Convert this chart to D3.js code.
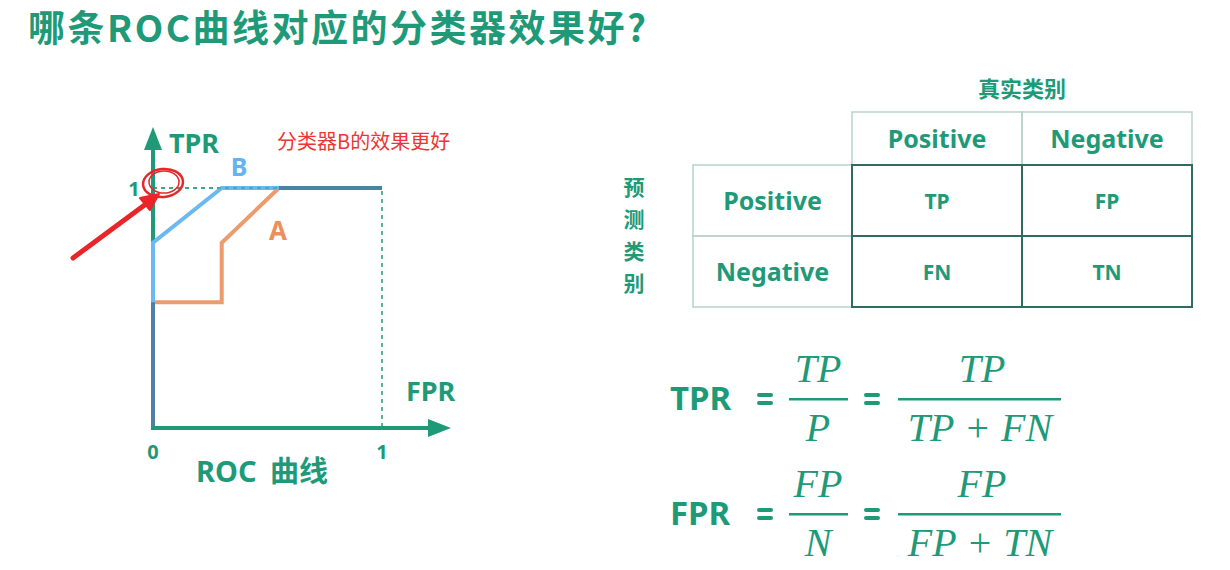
<!DOCTYPE html>
<html>
<head>
<meta charset="utf-8">
<script src="https://cdn.jsdelivr.net/npm/d3@7"></script>
<style>
  body { margin: 0; background: #fff; }
  text { font-family: "Noto Sans", "Noto Sans CJK SC", sans-serif; font-weight: bold; }
  .cjk { font-family: "Noto Sans CJK SC", sans-serif; }
  .math { font-family: "Liberation Serif", serif; font-style: italic; font-weight: normal; }
</style>
</head>
<body>
<div id="chart"></div>
<script>
// ROC curves (FPR, TPR)
var fprA = [0, 0, 0.30, 0.30, 0.55, 1];
var tprA = [0, 0.52, 0.52, 0.77, 1, 1];
var fprB = [0, 0, 0.30, 1];
var tprB = [0, 0.77, 1, 1];
// parts where both curves lie on top of each other
var sharedFpr = [[0, 0], [0.55, 1]];
var sharedTpr = [[0, 0.52], [1, 1]];

// confusion matrix
var actualLabels = ["Positive", "Negative"];
var predictedLabels = ["Positive", "Negative"];
var cells = [["TP", "FP"], ["FN", "TN"]];

var green = "#1f9a78";
var w = 1230, h = 570;

var svg = d3.select("#chart")
    .append("svg")
    .attr("width", w)
    .attr("height", h);

svg.append("text")
    .attr("class", "cjk")
    .attr("x", 28)
    .attr("y", 42)
    .style("font-size", "37px")
    .style("letter-spacing", "2.5px")
    .attr("fill", green)
    .text("哪条ROC曲线对应的分类器效果好?");

// ---------- ROC plot ----------
var x = d3.scaleLinear().domain([0, 1]).range([153, 382]);
var y = d3.scaleLinear().domain([0, 1]).range([426, 188]);

var roc = svg.append("g");

// axes with arrows
roc.append("line")
    .attr("x1", x(0)).attr("y1", y(0) + 2)
    .attr("x2", x(0)).attr("y2", 140)
    .attr("stroke", green).attr("stroke-width", 4);
roc.append("path")
    .attr("d", "M" + (x(0) - 9) + ",150L" + x(0) + ",127L" + (x(0) + 9) + ",150Z")
    .attr("fill", green);
roc.append("line")
    .attr("x1", x(0) - 2).attr("y1", y(0) + 2)
    .attr("x2", 438).attr("y2", y(0) + 2)
    .attr("stroke", green).attr("stroke-width", 4);
roc.append("path")
    .attr("d", "M428," + (y(0) - 7) + "L451," + (y(0) + 2) + "L428," + (y(0) + 11) + "Z")
    .attr("fill", green);

// dashed guides
roc.append("path")
    .attr("d", d3.line()([[x(0), y(1)], [x(1), y(1)], [x(1), y(0)]]))
    .attr("fill", "none")
    .attr("stroke", green)
    .attr("stroke-width", 1.5)
    .attr("stroke-dasharray", "4,4");

var line = d3.line()
    .x(function (d) { return x(d[0]); })
    .y(function (d) { return y(d[1]); });

roc.append("path")
    .attr("d", line(d3.zip(fprA, tprA)))
    .attr("fill", "none")
    .attr("stroke", "#ec9b6c")
    .attr("stroke-width", 4);
roc.append("path")
    .attr("d", line(d3.zip(fprB, tprB)))
    .attr("fill", "none")
    .attr("stroke", "#6bb8f2")
    .attr("stroke-width", 4);
sharedFpr.forEach(function (f, i) {
    roc.append("path")
        .attr("d", line(d3.zip(f, sharedTpr[i])))
        .attr("fill", "none")
        .attr("stroke", "#4f80a8")
        .attr("stroke-width", 4);
});
// dashes stay visible over the top line
roc.append("path")
    .attr("d", d3.line()([[x(0), y(1)], [x(1), y(1)]]))
    .attr("stroke", green)
    .attr("stroke-width", 1.5)
    .attr("stroke-dasharray", "4,4")
    .attr("opacity", 0.6);

// labels
roc.append("text").attr("x", 169).attr("y", 153)
    .style("font-size", "27px").attr("fill", green).text("TPR");
roc.append("text").attr("x", 406).attr("y", 401)
    .style("font-size", "27px").attr("fill", green).text("FPR");
roc.append("text").attr("x", 134).attr("y", y(1) + 8).attr("text-anchor", "middle")
    .style("font-size", "20px").attr("fill", green).text("1");
roc.append("text").attr("x", x(0)).attr("y", 459).attr("text-anchor", "middle")
    .style("font-size", "20px").attr("fill", green).text("0");
roc.append("text").attr("x", x(1)).attr("y", 459).attr("text-anchor", "middle")
    .style("font-size", "20px").attr("fill", green).text("1");
roc.append("text").attr("x", 262).attr("y", 482).attr("text-anchor", "middle")
    .style("font-size", "29px").style("word-spacing", "6px").attr("fill", green).text("ROC 曲线");
roc.append("text").attr("x", 239).attr("y", 176).attr("text-anchor", "middle")
    .style("font-size", "25px").attr("fill", "#62b4f2").text("B");
roc.append("text").attr("x", 278).attr("y", 240).attr("text-anchor", "middle")
    .style("font-size", "26px").attr("fill", "#ec8f5a").text("A");
roc.append("text").attr("class", "cjk").attr("x", 277).attr("y", 149)
    .style("font-size", "20px").style("font-weight", "normal")
    .attr("fill", "#ee3535").text("分类器B的效果更好");

// red marker
roc.append("ellipse")
    .attr("cx", 163).attr("cy", 183).attr("rx", 20).attr("ry", 14)
    .attr("fill", "none").attr("stroke", "#e8262a").attr("stroke-width", 2.5)
    .attr("transform", "rotate(-6,163,183)");
roc.append("ellipse")
    .attr("cx", 164).attr("cy", 182).attr("rx", 15).attr("ry", 11)
    .attr("fill", "none").attr("stroke", "#e8262a").attr("stroke-width", 1.5);
roc.append("line")
    .attr("x1", 73).attr("y1", 258).attr("x2", 150).attr("y2", 201)
    .attr("stroke", "#e8262a").attr("stroke-width", 5).attr("stroke-linecap", "round");
roc.append("path")
    .attr("d", "M159,194L140,198L150,210Z")
    .attr("fill", "#e8262a").attr("stroke", "#e8262a").attr("stroke-width", 2)
    .attr("stroke-linejoin", "round");

// ---------- confusion matrix ----------
var colX = d3.scaleBand().domain(actualLabels).range([852, 1192]);
var rowY = d3.scaleBand().domain(predictedLabels).range([165, 307]);
var headTop = 112, rowHeadX = 693;

var tbl = svg.append("g");

// header cells
actualLabels.forEach(function (lab) {
    tbl.append("rect")
        .attr("x", colX(lab)).attr("y", headTop)
        .attr("width", colX.bandwidth()).attr("height", rowY.range()[0] - headTop)
        .attr("fill", "none").attr("stroke", "#b9d2ca").attr("stroke-width", 1.5);
    tbl.append("text")
        .attr("x", colX(lab) + colX.bandwidth() / 2).attr("y", headTop + 36)
        .attr("text-anchor", "middle")
        .style("font-size", "25px").attr("fill", green).text(lab);
});
predictedLabels.forEach(function (lab) {
    tbl.append("rect")
        .attr("x", rowHeadX).attr("y", rowY(lab))
        .attr("width", colX.range()[0] - rowHeadX).attr("height", rowY.bandwidth())
        .attr("fill", "none").attr("stroke", "#b9d2ca").attr("stroke-width", 1.5);
    tbl.append("text")
        .attr("x", (rowHeadX + colX.range()[0]) / 2).attr("y", rowY(lab) + rowY.bandwidth() / 2 + 9)
        .attr("text-anchor", "middle")
        .style("font-size", "25px").attr("fill", green).text(lab);
});
predictedLabels.forEach(function (r, i) {
    actualLabels.forEach(function (c, j) {
        tbl.append("rect")
            .attr("x", colX(c)).attr("y", rowY(r))
            .attr("width", colX.bandwidth()).attr("height", rowY.bandwidth())
            .attr("fill", "none").attr("stroke", "#2f6b5f").attr("stroke-width", 2);
        tbl.append("text")
            .attr("x", colX(c) + colX.bandwidth() / 2).attr("y", rowY(r) + rowY.bandwidth() / 2 + 8)
            .attr("text-anchor", "middle")
            .style("font-size", "21px").attr("fill", green).text(cells[i][j]);
    });
});

tbl.append("text").attr("class", "cjk")
    .attr("x", 1022).attr("y", 97).attr("text-anchor", "middle")
    .style("font-size", "22px").attr("fill", green).text("真实类别");
"预测类别".split("").forEach(function (ch, i) {
    tbl.append("text").attr("class", "cjk")
        .attr("x", 634).attr("y", 195 + i * 32).attr("text-anchor", "middle")
        .style("font-size", "21px").attr("fill", green).text(ch);
});

// ---------- formulas ----------
var formulas = [
    { name: "TPR", num1: "TP", den1: "P", num2: "TP", den2: ["TP", "FN"], y: 398 },
    { name: "FPR", num1: "FP", den1: "N", num2: "FP", den2: ["FP", "TN"], y: 513 }
];

var fg = svg.append("g");
formulas.forEach(function (f) {
    fg.append("text").attr("x", 670).attr("y", f.y + 12)
        .style("font-size", "33px").attr("fill", green).text(f.name);
    [765, 872].forEach(function (cx) {
        fg.append("rect").attr("x", cx - 8).attr("y", f.y - 5).attr("width", 16).attr("height", 4)
            .attr("rx", 2).attr("fill", green);
        fg.append("rect").attr("x", cx - 8).attr("y", f.y + 3).attr("width", 16).attr("height", 4)
            .attr("rx", 2).attr("fill", green);
    });
    fg.append("rect").attr("x", 789).attr("y", f.y).attr("width", 59).attr("height", 2.5).attr("fill", green);
    fg.append("rect").attr("x", 898).attr("y", f.y).attr("width", 163).attr("height", 2.5).attr("fill", green);
    fg.append("text").attr("class", "math").attr("x", 818).attr("y", f.y - 16)
        .attr("text-anchor", "middle").style("font-size", "40px").attr("fill", green).text(f.num1);
    fg.append("text").attr("class", "math").attr("x", 818).attr("y", f.y + 43)
        .attr("text-anchor", "middle").style("font-size", "40px").attr("fill", green).text(f.den1);
    fg.append("text").attr("class", "math").attr("x", 982).attr("y", f.y - 16)
        .attr("text-anchor", "middle").style("font-size", "40px").attr("fill", green).text(f.num2);
    var den = fg.append("text").attr("class", "math").attr("x", 980).attr("y", f.y + 43)
        .attr("text-anchor", "middle").style("font-size", "40px").attr("fill", green);
    den.append("tspan").text(f.den2[0]);
    den.append("tspan").style("font-style", "normal").attr("dx", 12).text("+");
    den.append("tspan").attr("dx", 12).text(f.den2[1]);
});
</script>
</body>
</html>
